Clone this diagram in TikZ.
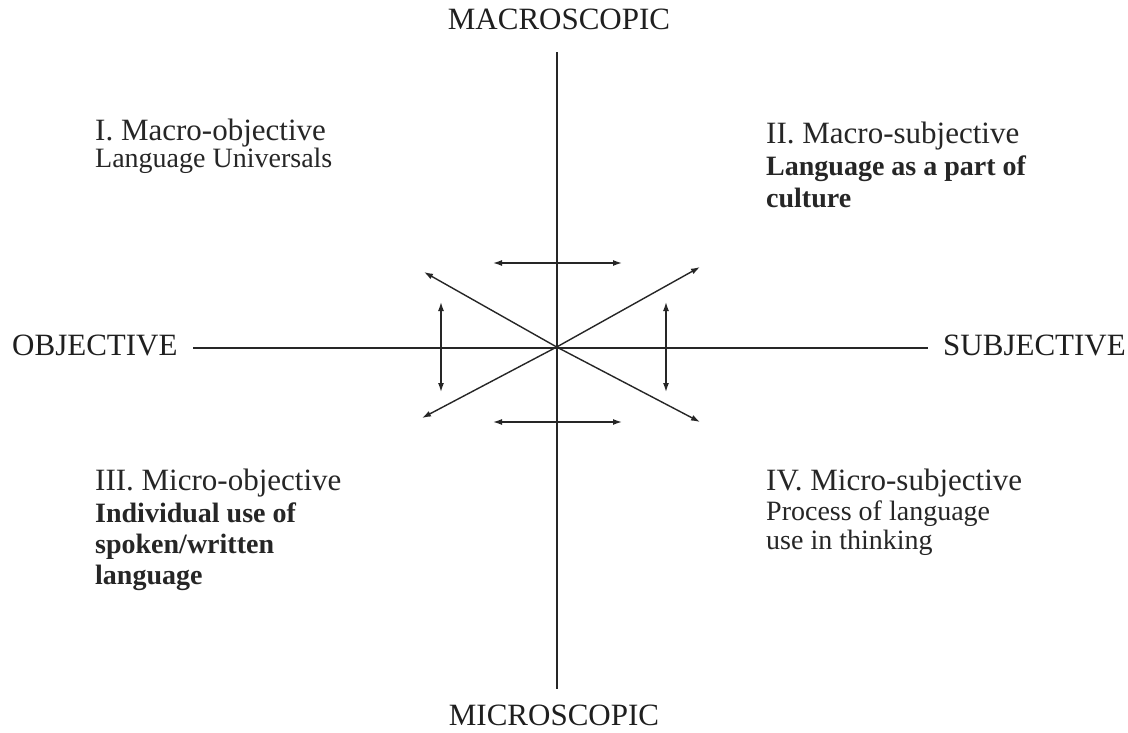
\documentclass[tikz,border=0pt]{standalone}
\usepackage{fontspec}
\setmainfont{Liberation Serif}
\usetikzlibrary{arrows.meta}
\tikzset{
  axislabel/.style={inner sep=0pt, font=\fontsize{31}{31}\selectfont, text=black!88},
  qtitle/.style={inner sep=0pt, anchor=base west, font=\fontsize{31}{31}\selectfont, text=black!85},
  qline/.style={inner sep=0pt, anchor=base west, font=\fontsize{28}{28}\selectfont, text=black!85},
  qbold/.style={qline, font=\fontsize{28}{28}\selectfont\bfseries},
  axisline/.style={line width=1.6pt, black!85},
  tip/.style={line width=1.4pt, black!85},
  dbl/.style={tip, {Latex[length=9pt,width=6pt]}-{Latex[length=9pt,width=6pt]}},
  sgl/.style={tip, -{Latex[length=9pt,width=6pt]}},
}
\begin{document}
\begin{tikzpicture}[x=1pt,y=-1pt]
\fill[white] (0,0) rectangle (1128,732);
\useasboundingbox (0,0) rectangle (1128,732);

% axis labels
\node[axislabel, anchor=base] (macro) at (559,29) {MACROSCOPIC};
\node[axislabel, anchor=base] (micro) at (554,725) {MICROSCOPIC};
\node[axislabel, anchor=base west] (obj) at (12,355) {OBJECTIVE};
\node[axislabel, anchor=base west] (subj) at (943,355) {SUBJECTIVE};

% axes
\coordinate (O) at (556.7,347);
\coordinate (top) at (556.7,52);
\coordinate (bot) at (556.7,689);
\coordinate (left) at (193,347.7);
\coordinate (right) at (928,347.7);
\draw[axisline] (top) -- (bot);
\draw[axisline] (left) -- (right);

% diagonal arrows from centre
\coordinate (ul) at (424,272);
\coordinate (lr) at (700,422);
\coordinate (ll) at (422,418);
\coordinate (ur) at (700,267);
\draw[sgl] (O) -- (ul);
\draw[sgl] (O) -- (lr);
\draw[sgl] (O) -- (ll);
\draw[sgl] (O) -- (ur);

% double arrows
\coordinate (t1) at (493,263); \coordinate (t2) at (622,263);
\coordinate (b1) at (493,422); \coordinate (b2) at (622,422);
\coordinate (l1) at (441,302); \coordinate (l2) at (441,392);
\coordinate (r1) at (666,302); \coordinate (r2) at (666,392);
\draw[dbl] (t1) -- (t2);
\draw[dbl] (b1) -- (b2);
\draw[dbl] (l1) -- (l2);
\draw[dbl] (r1) -- (r2);

% quadrant I
\node[qtitle] (q1a) at (95,140) {I. Macro-objective};
\node[qline] (q1b) at (95,167) {Language Universals};
% quadrant II
\node[qtitle] (q2a) at (766,143) {II. Macro-subjective};
\node[qbold] (q2b) at (766,175) {Language as a part of};
\node[qbold] (q2c) at (766,207) {culture};
% quadrant III
\node[qtitle] (q3a) at (95,490) {III. Micro-objective};
\node[qbold] (q3b) at (95,522) {Individual use of};
\node[qbold] (q3c) at (95,553) {spoken/written};
\node[qbold] (q3d) at (95,584) {language};
% quadrant IV
\node[qtitle] (q4a) at (766,490) {IV. Micro-subjective};
\node[qline] (q4b) at (766,520) {Process of language};
\node[qline] (q4c) at (766,549) {use in thinking};
\end{tikzpicture}
\end{document}
